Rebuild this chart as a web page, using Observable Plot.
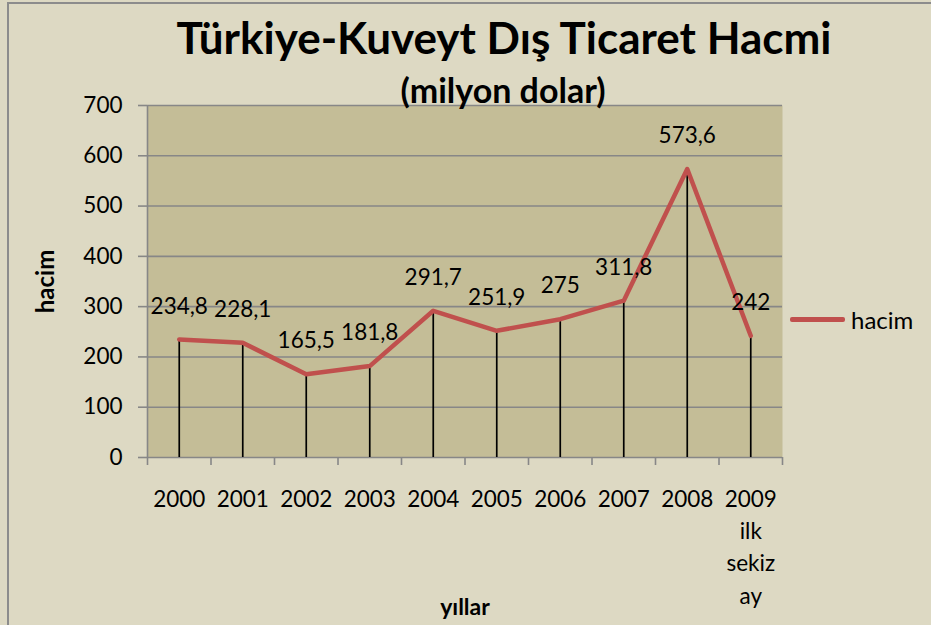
<!DOCTYPE html>
<html>
<head>
<meta charset="utf-8">
<script src="https://cdn.jsdelivr.net/npm/d3@7"></script>
<script src="https://cdn.jsdelivr.net/npm/@observablehq/plot@0.6"></script>
<style>
  html, body { margin: 0; padding: 0; background: #DDD9C3; }
  #chart { position: relative; width: 931px; height: 625px; background: #DDD9C3; overflow: hidden; font-family: Lato, "Liberation Sans", sans-serif; }
  #border { position: absolute; left: 7px; top: 2px; right: -10px; bottom: -10px; border-left: 2px solid #8c8c8c; border-top: 2px solid #8c8c8c; }
  #title { position: absolute; left: 0; width: 1008px; top: 15px; text-align: center; font-weight: bold; font-size: 44px; color: #000; line-height: 1; }
  #subtitle { position: absolute; left: 0; width: 1006px; top: 73px; text-align: center; font-weight: bold; font-size: 34px; color: #000; line-height: 1; }
  #legend { position: absolute; left: 790px; top: 305px; display: flex; align-items: center; font-size: 24px; color: #000; }
  #legend .sw { width: 55px; height: 5px; background: #C0504D; border-radius: 2px; margin-right: 6px; }
  #plot { position: absolute; left: 0; top: 0; }
</style>
</head>
<body>
<div id="chart">
  <div id="border"></div>
  <div id="plot"></div>
  <div id="title">Türkiye-Kuveyt Dış Ticaret Hacmi</div>
  <div id="subtitle">(milyon dolar)</div>
  <div id="legend"><div class="sw"></div><span>hacim</span></div>
</div>
<script>
const years = ["2000", "2001", "2002", "2003", "2004", "2005", "2006", "2007", "2008", "2009\nilk\nsekiz\nay"];
const values = [234.8, 228.1, 165.5, 181.8, 291.7, 251.9, 275, 311.8, 573.6, 242];
const yTicks = [0, 100, 200, 300, 400, 500, 600, 700];
const seriesName = "hacim";
const xTitle = "yıllar";

const data = years.map((y, i) => ({i, year: y, value: values[i]}));
const fmt = v => String(v).replace(".", ",");
const idx = years.map((_, i) => i);
const bounds = years.map((_, i) => i - 0.5).concat([years.length - 0.5]);

const gray = "#878787";
const fs = 22.5;

const chart = Plot.plot({
  width: 931,
  height: 625,
  marginLeft: 147,
  marginRight: 149,
  marginTop: 105,
  marginBottom: 168,
  style: {background: "transparent", fontFamily: "Lato, 'Liberation Sans', sans-serif", color: "#000", overflow: "visible"},
  x: {type: "linear", domain: [-0.5, years.length - 0.5]},
  y: {type: "linear", domain: [0, 700]},
  marks: [
    Plot.frame({fill: "#C4BD97", stroke: null}),
    Plot.gridY(yTicks, {stroke: gray, strokeOpacity: 1, strokeWidth: 1.6}),
    Plot.ruleX([-0.5], {stroke: gray, strokeWidth: 1.6}),
    Plot.axisY(yTicks, {tickSize: 9, tickPadding: 16, stroke: gray, strokeWidth: 1.6, fontSize: fs, fill: "#000", label: null, tickFormat: d => String(d)}),
    Plot.axisX(bounds, {tickSize: 8, stroke: gray, strokeWidth: 1.6, tickFormat: () => "", label: null}),
    Plot.axisX(idx, {tickSize: 0, tickPadding: 26, fontSize: fs, fill: "#000", lineHeight: 1.44, tickFormat: i => years[i], label: null}),
    Plot.ruleX(data, {x: "i", y1: 0, y2: "value", stroke: "#000", strokeWidth: 1.7}),
    Plot.line(data, {x: "i", y: "value", stroke: "#C0504D", strokeWidth: 4.5, strokeLinejoin: "round", strokeLinecap: "round"}),
    Plot.text(data, {x: "i", y: "value", text: d => fmt(d.value), dy: -33, lineAnchor: "middle", fontSize: fs, fill: "#000"}),
    Plot.text([seriesName], {frameAnchor: "left", dx: -101, rotate: -90, textAnchor: "middle", lineAnchor: "middle", fontSize: 24, fontWeight: "bold", fill: "#000"}),
    Plot.text([xTitle], {frameAnchor: "bottom", dy: 157, textAnchor: "middle", fontSize: 23, fontWeight: "bold", fill: "#000"})
  ]
});
document.getElementById("plot").appendChild(chart);
</script>
</body>
</html>
